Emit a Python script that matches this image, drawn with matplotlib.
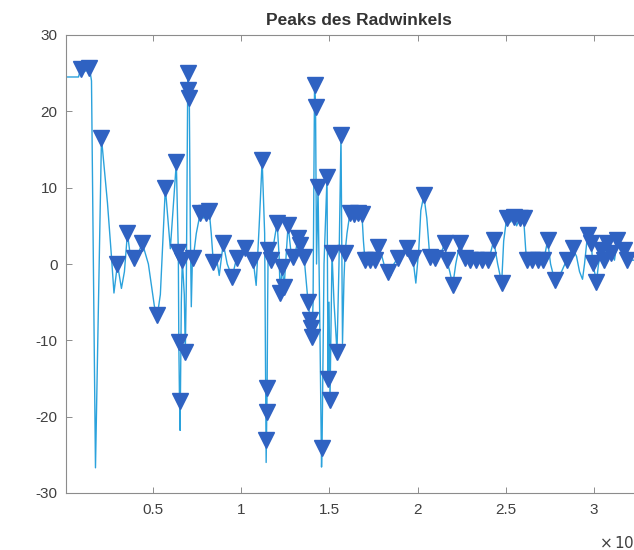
import matplotlib
matplotlib.use("Agg")
import matplotlib.pyplot as plt
import numpy as np
from matplotlib.ticker import FuncFormatter, MultipleLocator

plt.rcParams['font.family'] = ['Liberation Sans', 'DejaVu Sans']
plt.rcParams['axes.unicode_minus'] = False

# Radwinkel signal (sample index, angle in degrees); peak = 1 marks a findpeaks hit
t = [91, 770, 883, 1110, 1392, 1506, 1732, 2072, 2412, 2638,
     2780, 2978, 3204, 3374, 3544, 3714, 3940, 4167, 4393, 4733,
     5072, 5242, 5412, 5695, 5978, 6318, 6431, 6459, 6499, 6533,
     6601, 6657, 6770, 6827, 6884, 6969, 6997, 7054, 7110, 7167,
     7224, 7280, 7450, 7677, 7846, 8016, 8186, 8299, 8413, 8582,
     8752, 8979, 9205, 9488, 9658, 9771, 9998, 10224, 10451, 10677,
     10847, 11017, 11186, 11328, 11413, 11430, 11447, 11469, 11498, 11526,
     11696, 11866, 12036, 12149, 12205, 12319, 12432, 12545, 12658, 12800,
     12941, 13111, 13224, 13338, 13451, 13564, 13677, 13791, 13904, 13960,
     14017, 14074, 14158, 14215, 14272, 14356, 14470, 14555, 14583, 14696,
     14866, 14923, 14979, 15036, 15093, 15149, 15262, 15432, 15545, 15659,
     15744, 15828, 15885, 15998, 16168, 16395, 16621, 16847, 16932, 17017,
     17300, 17583, 17753, 17980, 18150, 18319, 18489, 18659, 18885, 19168,
     19395, 19565, 19734, 19904, 20074, 20187, 20357, 20527, 20697, 20980,
     21263, 21546, 21659, 21829, 21999, 22169, 22395, 22678, 22961, 23301,
     23641, 23980, 24150, 24320, 24546, 24773, 24886, 25056, 25283, 25452,
     25622, 25792, 26019, 26132, 26188, 26471, 26811, 27094, 27207, 27377,
     27547, 27773, 27943, 28170, 28453, 28792, 29019, 29189, 29358, 29472,
     29642, 29755, 29868, 29925, 30038, 30151, 30265, 30435, 30604, 30774,
     31000, 31170, 31340, 31510, 31736, 31906, 32133, 32585, 33265]

winkel = [24.5, 24.5, 25.5, 25.2, 25.7, 24.0, -26.7, 16.5, 8.0, 1.0,
          -3.8, 0.0, -3.2, -1.0, 4.0, 1.0, 0.8, 1.5, 2.7, 0.0,
          -5.5, -6.7, -4.0, 10.0, 2.0, 13.3, 1.6, -10.2, -18.0, -21.8,
          -5.0, 0.5, -4.0, -11.5, -3.0, 25.0, 22.8, 21.7, 5.0, -5.6,
          0.0, 0.8, 4.0, 6.7, 6.0, 6.7, 6.9, 4.0, 0.3, 1.0,
          -1.5, 2.7, 0.0, -1.7, 0.0, 0.8, 1.3, 2.1, 1.2, 0.5,
          -2.8, 5.0, 13.6, 4.0, -26.0, -23.0, -19.4, -16.2, -5.0, 1.8,
          0.5, 3.0, 5.4, 1.0, -3.8, -0.4, -3.0, 1.0, 5.1, 2.0,
          0.9, 2.0, 3.4, 2.5, 1.5, 0.9, -2.0, -5.0, -7.3, -8.4,
          -9.5, -5.0, 23.5, 20.6, 0.0, 10.1, -10.0, -26.6, -24.1, 0.0,
          11.4, -15.0, -5.0, -17.8, -8.0, 1.4, -5.0, -11.5, 0.0, 16.9,
          -10.4, -2.0, 1.4, 4.0, 6.7, 6.5, 6.7, 6.5, 3.0, 0.5,
          0.5, 0.5, 2.2, 1.0, -0.5, -1.0, -1.5, 0.0, 0.8, 1.5,
          2.1, 1.5, 0.8, -2.5, 2.0, 7.0, 9.0, 6.0, 0.9, 0.8,
          1.0, 2.7, 0.5, -1.0, -2.8, 0.0, 2.7, 0.8, 0.5, 0.5,
          0.5, 0.5, 1.5, 3.1, 0.0, -2.5, 3.0, 6.0, 5.5, 6.2,
          5.0, 6.0, 6.0, 2.0, 0.5, 0.5, 0.5, 0.5, 1.0, 3.1,
          0.0, -2.1, -1.8, -1.0, 0.5, 2.1, 1.0, -1.0, -2.0, 0.0,
          3.8, 3.0, 2.7, 0.1, -1.0, -2.4, 0.0, 1.8, 0.5, 2.7,
          1.5, 0.5, 3.1, 1.8, 1.8, 0.5, 0.5, 0.5, 0.5]

peak = [0, 0, 1, 0, 1, 0, 0, 1, 0, 0,
        0, 1, 0, 0, 1, 0, 1, 0, 1, 0,
        0, 1, 0, 1, 0, 1, 1, 1, 1, 0,
        0, 1, 0, 1, 0, 1, 1, 1, 0, 0,
        0, 1, 0, 1, 0, 1, 1, 0, 1, 0,
        0, 1, 0, 1, 0, 1, 0, 1, 0, 1,
        0, 0, 1, 0, 0, 1, 1, 1, 0, 1,
        1, 0, 1, 0, 1, 1, 1, 0, 1, 0,
        1, 0, 1, 1, 0, 1, 0, 1, 1, 1,
        1, 0, 1, 1, 0, 1, 0, 0, 1, 0,
        1, 1, 0, 1, 0, 1, 0, 1, 0, 1,
        0, 0, 1, 0, 1, 1, 1, 1, 0, 1,
        1, 1, 1, 0, 0, 1, 0, 0, 1, 0,
        1, 0, 1, 0, 0, 0, 1, 0, 1, 1,
        0, 1, 1, 0, 1, 0, 1, 1, 1, 1,
        1, 1, 0, 1, 0, 1, 0, 1, 0, 1,
        0, 1, 1, 0, 1, 1, 1, 1, 0, 1,
        0, 1, 0, 0, 1, 1, 0, 0, 0, 0,
        1, 0, 1, 1, 0, 1, 0, 1, 1, 1,
        1, 0, 1, 0, 1, 1, 0, 0, 0]

t = np.array(t)
winkel = np.array(winkel)
peak = np.array(peak, dtype=bool)

fig = plt.figure(figsize=(6.34, 5.5), dpi=100)
# axes run a bit past the right border of the figure
ax = fig.add_axes([66 / 634, 57 / 550, 586 / 634, 458 / 550])

ax.plot(t, winkel, color='#2ba2dc', lw=1.0)
ax.plot(t[peak], winkel[peak], 'v', color='#2f62c2', ms=11, mec='#2f62c2')

ax.set_xlim(60, 33300)
ax.set_ylim(-30, 30)
ax.xaxis.set_major_locator(MultipleLocator(5000))
ax.yaxis.set_major_locator(MultipleLocator(10))
ax.xaxis.set_major_formatter(FuncFormatter(lambda v, p: '%g' % (v / 1e4)))
ax.text(0.983, -0.108, r'$\times\,10^{4}$', transform=ax.transAxes,
        ha='right', va='center', fontsize=11, color='#404040')

for s in ax.spines.values():
    s.set_color('#8c8c8c')
    s.set_linewidth(0.8)
ax.tick_params(direction='in', length=4, width=0.7, colors='#8c8c8c',
               labelcolor='#404040', labelsize=11, top=True, right=True)
ax.tick_params(axis='x', pad=7)
ax.tick_params(axis='y', pad=6)

ax.set_title('Peaks des Radwinkels', fontsize=12.5, fontweight='bold',
             color='#333333', pad=7)

fig.savefig('out.png', dpi=100)
